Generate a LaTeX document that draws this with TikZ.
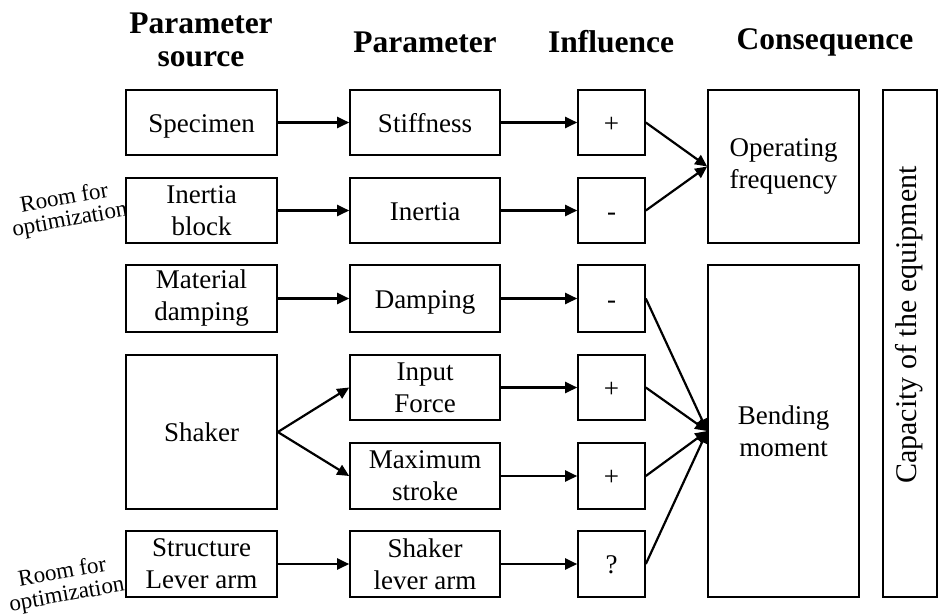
\documentclass[tikz,border=0pt]{standalone}
\usepackage{fontspec}
\setmainfont{Liberation Serif}
\usetikzlibrary{arrows.meta,positioning}

\begin{document}
\begin{tikzpicture}[x=1pt,y=-1pt] % схема: 1pt = 1px, y вниз
\tikzstyle{blk} = [draw, line width=1.6pt, fill=white, align=center, inner sep=0pt, font=\fontsize{27}{32}\selectfont] % block style
\tikzstyle{sgl} = [text height=19pt, text depth=0pt] % one-line text, baseline as in two-line blocks
\tikzstyle{src} = [blk, minimum width=151pt] % parameter source column
\tikzstyle{par} = [blk, minimum width=150pt] % parameter column
\tikzstyle{infl} = [blk, sgl, minimum width=67pt] % influence column
\tikzstyle{cons} = [blk, minimum width=151pt] % consequence column
\tikzstyle{head} = [font=\bfseries\fontsize{31.5}{33}\selectfont, align=center] % column titles
\tikzstyle{note} = [font=\fontsize{23}{25}\selectfont, rotate=10] % side remark
\tikzstyle{arr} = [-{Triangle[length=12pt,width=11pt]}, line width=2.2pt] % arrow style

\useasboundingbox (0,0) rectangle (939,614);

% заголовки
\node[head] (hsrc) at (201,40) {Parameter\\source};
\node[head] (hpar) at (425,42) {Parameter};
\node[head] (hinf) at (611,42) {Influence};
\node[head] (hcon) at (825,42) {Consequence};

% пометки слева (под блоками)
\node[note] (opt1a) at (64,197) {Room for};
\node[note] (opt1b) at (70,221) {optimization};
\node[note] (opt2a) at (62,571) {Room for};
\node[note] (opt2b) at (67,596) {optimization};

% parameter source
\node[src, sgl, minimum height=65pt] (spec) at (201.5,122.5) {Specimen};
\node[src, minimum height=65pt] (iblk) at (201.5,210.5) {Inertia\\block};
\node[src, minimum height=67pt] (mdmp) at (201.5,298.5) {Material\\damping};
\node[src, sgl, minimum height=154pt] (shak) at (201.5,432) {Shaker};
\node[src, minimum height=66pt] (slev) at (201.5,564) {Structure\\Lever arm};

% parameter
\node[par, sgl, minimum height=65pt] (stif) at (425,122.5) {Stiffness};
\node[par, sgl, minimum height=65pt] (iner) at (425,210.5) {Inertia};
\node[par, sgl, minimum height=67pt] (damp) at (425,298.5) {Damping};
\node[par, minimum height=65pt] (ifor) at (425,387.5) {Input\\Force};
\node[par, minimum height=66pt] (mstr) at (425,476) {Maximum\\stroke};
\node[par, minimum height=66pt] (shla) at (425,564) {Shaker\\lever arm};

% influence
\node[infl, minimum height=65pt] (i1) at (611.5,122.5) {+};
\node[infl, minimum height=65pt] (i2) at (611.5,210.5) {-};
\node[infl, minimum height=67pt] (i3) at (611.5,298.5) {-};
\node[infl, minimum height=65pt] (i4) at (611.5,387.5) {+};
\node[infl, minimum height=66pt] (i5) at (611.5,476) {+};
\node[infl, minimum height=66pt] (i6) at (611.5,564) {?};

% consequence
\node[cons, minimum height=153pt] (opfr) at (783.5,166.5) {Operating\\frequency};
\node[cons, minimum height=332pt] (bend) at (783.5,431) {Bending\\moment};
\node[blk, minimum width=54pt, minimum height=507pt] (capa) at (910,343.5) {};
\node[rotate=90, font=\fontsize{30}{34}\selectfont] (capt) at (909,325) {Capacity of the equipment};

% стрелки
\draw[arr] (spec) -- (stif);
\draw[arr] (iblk) -- (iner);
\draw[arr] (mdmp) -- (damp);
\draw[arr] (shak.east) -- (ifor.west);
\draw[arr] (shak.east) -- (mstr.west);
\draw[arr] (slev) -- (shla);
\draw[arr] (stif) -- (i1);
\draw[arr] (iner) -- (i2);
\draw[arr] (damp) -- (i3);
\draw[arr] (ifor) -- (i4);
\draw[arr] (mstr) -- (i5);
\draw[arr] (shla) -- (i6);
\draw[arr] (i1.east) -- (opfr.west);
\draw[arr] (i2.east) -- (opfr.west);
\draw[arr] (i3.east) -- (bend.west);
\draw[arr] (i4.east) -- (bend.west);
\draw[arr] (i5.east) -- (bend.west);
\draw[arr] (i6.east) -- (bend.west);
\end{tikzpicture}
\end{document}
